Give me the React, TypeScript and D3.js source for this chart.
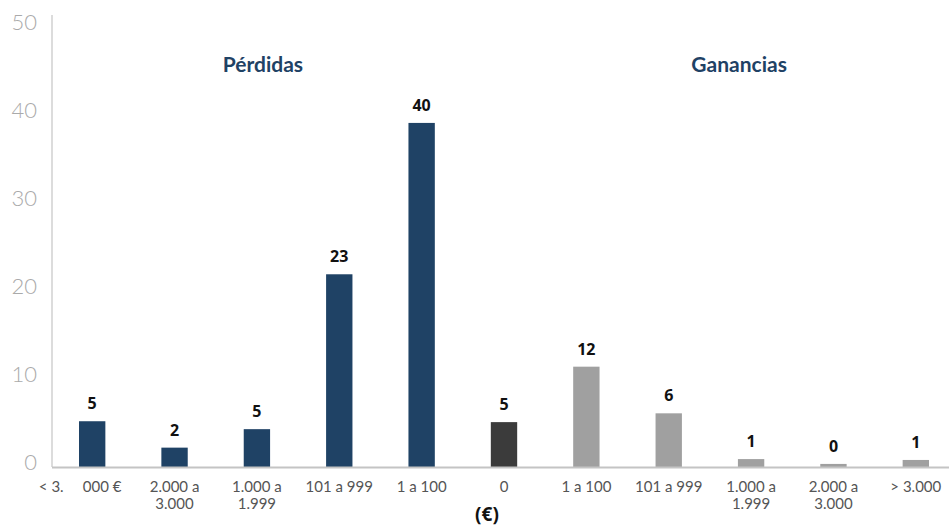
import React from "react";
import * as d3 from "d3";

const categories: string[][] = [
  ["< 3.     000 €"],
  ["2.000 a", "3.000"],
  ["1.000 a", "1.999"],
  ["101 a 999"],
  ["1 a 100"],
  ["0"],
  ["1 a 100"],
  ["101 a 999"],
  ["1.000 a", "1.999"],
  ["2.000 a", "3.000"],
  ["> 3.000"],
];
const barValues: number[] = [5.2, 2.2, 4.3, 21.9, 39.1, 5.1, 11.4, 6.1, 0.9, 0.35, 0.8];
const barLabels: string[] = ["5", "2", "5", "23", "40", "5", "12", "6", "1", "0", "1"];
const groups: string[] = ["loss", "loss", "loss", "loss", "loss", "zero", "gain", "gain", "gain", "gain", "gain"];
const yTicks: number[] = [0, 10, 20, 30, 40, 50];
const sectionTitles: string[] = ["Pérdidas", "Ganancias"];
const sectionAnchors: number[] = [2, 8];

const W = 949;
const H = 527;
const colors: Record<string, string> = { loss: "#1f4265", zero: "#3b3b3b", gain: "#a0a0a0" };
const titleOffsets = [6, -12];

export default function App() {
  const x = d3.scaleBand<number>().domain(d3.range(categories.length)).range([51, 957]).paddingInner(0.68).paddingOuter(0.34);
  const y = d3.scaleLinear().domain([0, 50]).range([467, 27]);
  const cx = (i: number) => (x(i) as number) + x.bandwidth() / 2;

  return (
    <svg width={W} height={H} style={{ position: "absolute", left: 0, top: 0, background: "#fff" }}>
      {/* y axis */}
      <line x1={52} x2={52} y1={15} y2={467} stroke="#d0d0d0" strokeWidth={1.5} />
      {yTicks.map((t) => (
        <text key={t} x={37} y={y(t) + 3} textAnchor="end" fontSize={22} fill="#aaaaaa" fontWeight={300} fontFamily="Lato, 'Noto Sans', sans-serif">
          {t}
        </text>
      ))}
      {/* bars */}
      {barValues.map((v, i) => (
        <rect key={i} x={x(i)} y={y(v)} width={x.bandwidth()} height={y(0) - y(v)} fill={colors[groups[i]]} />
      ))}
      {/* x axis */}
      <line x1={52} x2={W} y1={467.5} y2={467.5} stroke="#c4c4c4" strokeWidth={2} />
      {/* value labels */}
      {barValues.map((v, i) => (
        <text key={i} x={cx(i)} y={y(v) - 12} textAnchor="middle" fontSize={16} fontWeight={700} fill="#111" fontFamily="'Noto Sans', Lato, sans-serif">
          {barLabels[i]}
        </text>
      ))}
      {/* category labels */}
      {categories.map((lines, i) => (
        <text key={i} x={cx(i) + (i === 0 ? -12 : 0)} y={492} textAnchor="middle" fontSize={15} fill="#555" fontFamily="Lato, 'Noto Sans', sans-serif" xmlSpace="preserve" style={{ whiteSpace: "pre" }}>
          {lines.map((l, j) => (
            <tspan key={j} x={cx(i) + (i === 0 ? -12 : 0)} dy={j === 0 ? 0 : 17}>
              {l}
            </tspan>
          ))}
        </text>
      ))}
      {/* section titles */}
      {sectionTitles.map((s, k) => (
        <text key={s} x={cx(sectionAnchors[k]) + titleOffsets[k]} y={72} textAnchor="middle" fontSize={21} fontWeight={700} fill="#1f4265" fontFamily="Lato, 'Noto Sans', sans-serif">
          {s}
        </text>
      ))}
      <text x={487} y={521} textAnchor="middle" fontSize={19} fontWeight={700} fill="#111" fontFamily="'Noto Sans', Lato, sans-serif">
        (€)
      </text>
    </svg>
  );
}
